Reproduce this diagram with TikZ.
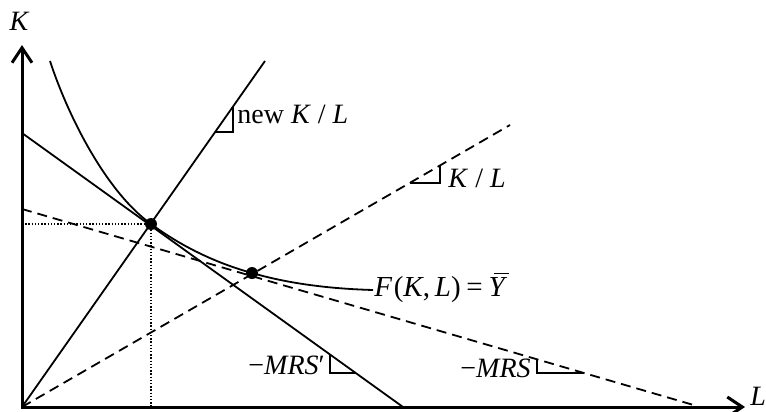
\documentclass[tikz,border=0pt]{standalone}
\usepackage{fontspec}
\setmainfont{Liberation Serif}
\usetikzlibrary{arrows.meta}
\newcommand{\ybarsym}{\leavevmode\rlap{\hspace{0.2em}\rule[0.76em]{0.5em}{0.05em}}\textit{Y}}
\begin{document}
\begin{tikzpicture}[x=0.5pt,y=-0.5pt,
  axisline/.style={line width=1.5pt},
  thinline/.style={line width=0.9pt},
  dashline/.style={line width=0.9pt, dash pattern=on 5pt off 3pt},
  dotline/.style={line width=0.7pt, dash pattern=on 0.7pt off 0.9pt},
  lbl/.style={inner sep=0pt, anchor=base west, font=\fontsize{14}{16}\selectfont},
  dotmark/.style={circle, fill, inner sep=0pt, minimum size=6pt}]
\useasboundingbox (0,0) rectangle (766,412);

% axes
\coordinate (O) at (22,407);
\coordinate (Ktop) at (22,45);
\coordinate (Lend) at (745,407);
\draw[axisline, {Straight Barb[length=7.5pt,width=10pt]}-{Straight Barb[length=7.5pt,width=10pt]}]
  (Ktop) -- (O) -- (Lend);
\node[inner sep=0pt, font=\fontsize{14}{16}\selectfont\itshape] (Klab) at (19,21) {K};
\node[lbl, font=\fontsize{14}{16}\selectfont\itshape] (Llab) at (750,405) {L};

% key points
\coordinate (A) at (151,224);
\coordinate (B) at (252,273);

% rays
\coordinate (NewTop) at (265,61);
\coordinate (OldTop) at (510,125);
\draw[thinline] (O) -- (NewTop);
\draw[dashline] (O) -- (OldTop);

% budget lines
\coordinate (BudK) at (22,133);
\coordinate (BudL) at (403,407);
\draw[thinline] (BudK) -- (BudL);
\coordinate (DBudK) at (22,209);
\coordinate (DBudL) at (697,406);
\draw[dashline] (DBudK) -- (DBudL);

% dotted guides
\coordinate (AK) at (22,224);
\coordinate (AL) at (151,407);
\draw[dotline] (AK) -- (A) -- (AL);

% isoquant
\coordinate (S) at (50,61);
\coordinate (E) at (373,290);
\draw[thinline] (S) .. controls (68,116) and (106,191.6) .. (A)
  .. controls (181.7,246.5) and (215.3,262.8) .. (B)
  .. controls (286.5,283) and (326.8,288.7) .. (E);

% slope markers
\draw[thinline] (215.1,132) -- (233,132) -- (233,106.6);
\draw[thinline] (409.6,183) -- (440,183) -- (440,165.4);
\draw[thinline] (330,354.5) -- (330,373) -- (355.7,373);
\draw[thinline] (537,359.3) -- (537,373) -- (583.9,373);

% dots
\node[dotmark] (Adot) at (A) {};
\node[dotmark] (Bdot) at (B) {};

% labels
\node[lbl] (newlab) at (237,123) {new \textit{K} / \textit{L}};
\node[lbl] (oldlab) at (448,187) {\textit{K} / \textit{L}};
\node[lbl, font=\fontsize{14.5}{17}\selectfont] (Flab) at (374,296) {\textit{F}\kern0.05em(\textit{K},\,\textit{L})\kern0.2em=\kern0.2em\ybarsym};
\node[lbl] (mrsp) at (248,374) {−\textit{MRS}′};
\node[lbl] (mrs) at (460,377) {−\textit{MRS}};
\end{tikzpicture}
\end{document}
